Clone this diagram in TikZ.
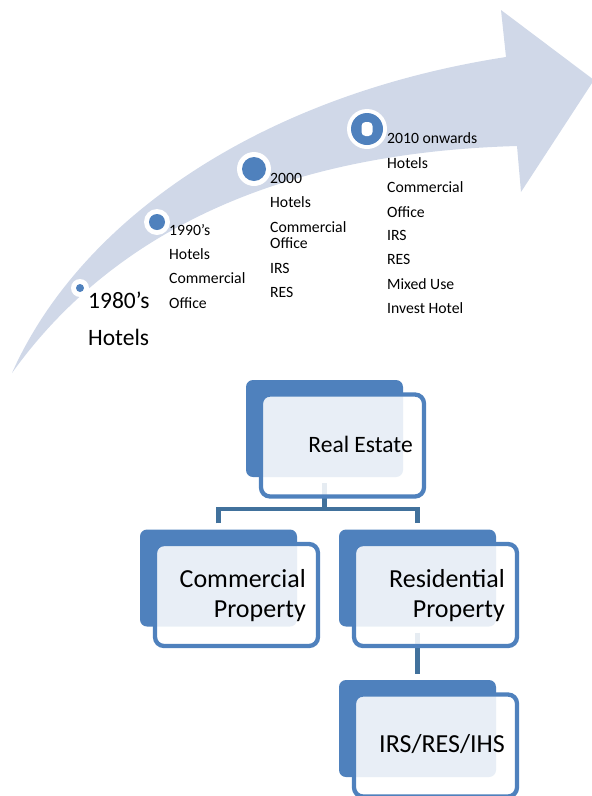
\documentclass[tikz,border=0pt]{standalone}
\usepackage{fontspec}
\setmainfont{Carlito}
\definecolor{arrowc}{HTML}{D0D8E8}
\definecolor{blu}{HTML}{4F81BD}
\definecolor{conn}{HTML}{41719C}
\begin{document}
\begin{tikzpicture}[x=1pt,y=-1pt,
  ring/.style={circle,fill=white,inner sep=0pt},
  dot/.style={circle,fill=blu,inner sep=0pt},
  lst/.style={anchor=base west,inner sep=0pt,font=\fontsize{15.7}{18}\selectfont},
  big/.style={anchor=base west,inner sep=0pt,font=\fontsize{23.5}{28}\selectfont},
  backbox/.style={fill=blu,rounded corners=7pt,draw=none,inner sep=0pt,minimum width=157pt,minimum height=97pt},
  frontbox/.style={draw=blu,line width=4.3pt,fill=white,fill opacity=0.87,rounded corners=9pt,inner sep=0pt,minimum width=163pt,minimum height=102pt},
  conline/.style={draw=conn,line width=4.5pt},
  orgt/.style={anchor=base east,inner sep=0pt,font=\fontsize{26}{30}\selectfont}]
\useasboundingbox (0,0) rectangle (592,796);
\clip (0,0) rectangle (592,796);
% big arrow
\fill[arrowc] (12,373) .. controls (80,220) and (260,95) .. (506,57) -- (501,10) -- (594,80) -- (521,192) -- (517,146) .. controls (380,150) and (150,180) .. (12,373) -- cycle;
% timeline markers
\node[ring,minimum size=18pt] (r80) at (80,288) {};
\node[dot,minimum size=8pt] (d80) at (r80) {};
\node[ring,minimum size=26pt] (r90) at (157,222) {};
\node[dot,minimum size=16pt] (d90) at (r90) {};
\node[ring,minimum size=34pt] (r00) at (254,169) {};
\node[dot,minimum size=24pt] (d00) at (r00) {};
\node[ring,minimum size=40pt] (r10) at (367,129) {};
\node[dot,minimum size=32pt] (d10) at (r10) {};
\node[fill=white,rounded corners=4pt,minimum width=11pt,minimum height=14pt,inner sep=0pt] (p10) at (r10) {};
% timeline texts
\node[big] (t80a) at (88,308) {1980’s};
\node[big] (t80b) at (88,345) {Hotels};
\node[lst] (t90a) at (169,235) {1990’s};
\node[lst] (t90b) at (169,259) {Hotels};
\node[lst] (t90c) at (169,283) {Commercial};
\node[lst] (t90d) at (169,308) {Office};
\node[lst] (t00a) at (270,183) {2000};
\node[lst] (t00b) at (270,207) {Hotels};
\node[lst] (t00c) at (270,232) {Commercial};
\node[lst] (t00d) at (270,248) {Office};
\node[lst] (t00e) at (270,273) {IRS};
\node[lst] (t00f) at (270,297) {RES};
\node[lst] (t10a) at (387,143) {2010 onwards};
\node[lst] (t10b) at (387,168) {Hotels};
\node[lst] (t10c) at (387,192) {Commercial};
\node[lst] (t10d) at (387,217) {Office};
\node[lst] (t10e) at (387,240) {IRS};
\node[lst] (t10f) at (387,264) {RES};
\node[lst] (t10g) at (387,289) {Mixed Use};
\node[lst] (t10h) at (387,313) {Invest Hotel};
% org chart back boxes
\node[backbox] (reb) at (324.5,428.5) {};
\node[backbox] (cob) at (218.5,578) {};
\node[backbox] (rsb) at (417.5,578) {};
\node[backbox] (irb) at (417.5,728.5) {};
% connectors
\coordinate (barc) at (324.5,509);
\draw[conline] ([yshift=-6pt]reb.south) -- (barc);
\draw[conline] ([yshift=6pt]cob.north) |- (barc) -| ([yshift=6pt]rsb.north);
\draw[conline] ([yshift=-6pt]rsb.south) -- ([yshift=6pt]irb.north);
% front boxes
\node[frontbox] (ref) at (342.5,445.5) {};
\node[frontbox] (cof) at (236.5,595) {};
\node[frontbox] (rsf) at (435.5,595) {};
\node[frontbox] (irf) at (435.5,745.5) {};
% org texts
\node[orgt,font=\fontsize{23.5}{28}\selectfont] (ret) at (413,452) {Real Estate};
\node[orgt] (cot1) at (306,587) {Commercial};
\node[orgt] (cot2) at (306,617) {Property};
\node[orgt] (rst1) at (505,587) {Residential};
\node[orgt] (rst2) at (505,617) {Property};
\node[orgt] (irt) at (505,752) {IRS/RES/IHS};
\end{tikzpicture}
\end{document}
